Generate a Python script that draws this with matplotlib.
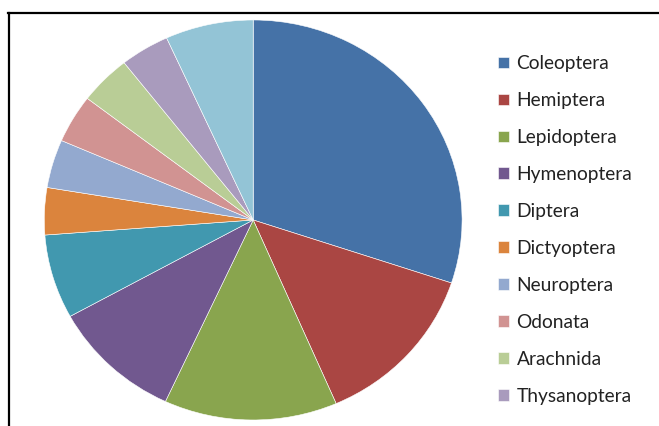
import matplotlib.pyplot as plt
from matplotlib.lines import Line2D

# Share of each insect order (percent)
orders = ['Coleoptera', 'Hemiptera', 'Lepidoptera', 'Hymenoptera', 'Diptera',
          'Dictyoptera', 'Neuroptera', 'Odonata', 'Arachnida', 'Thysanoptera', 'Others']
shares = [30.1, 13.4, 13.4, 10.1, 6.8, 3.8, 3.9, 3.9, 4.0, 3.8, 6.8]
colors = ['#4572A7', '#AA4643', '#89A54E', '#71588F', '#4198AF', '#DB843D',
          '#93A9CF', '#D19392', '#B9CD96', '#A99BBD', '#93C4D6']

plt.rcParams['font.family'] = ['Lato', 'DejaVu Sans']

fig = plt.figure(figsize=(6.59, 4.26), dpi=100)
ax = fig.add_axes([0.0672, 0.0141, 0.634, 0.939])
wedges, _ = ax.pie(shares, colors=colors, startangle=90, counterclock=False,
                   wedgeprops=dict(edgecolor='white', linewidth=0.4))
ax.set_aspect('auto')
ax.set_xlim(-1, 1)
ax.set_ylim(-1, 1)
ax.axis('off')

# legend shows only the first ten orders, as in the original
fig.legend(wedges[:10], orders[:10], loc='upper left',
           bbox_to_anchor=(481 / 659, 1 - 38 / 426), frameon=False,
           fontsize=13.8, labelspacing=1.04, handlelength=0.55, handleheight=0.55,
           handletextpad=0.4, labelcolor='#222222')

# frame lines on the top and left edges
fig.add_artist(Line2D([8 / 659, 1], [1 - 13 / 426] * 2, color='black', lw=1.6))
fig.add_artist(Line2D([8.5 / 659] * 2, [0, 1 - 13 / 426], color='black', lw=1.6))

fig.savefig('out.png', dpi=100)
